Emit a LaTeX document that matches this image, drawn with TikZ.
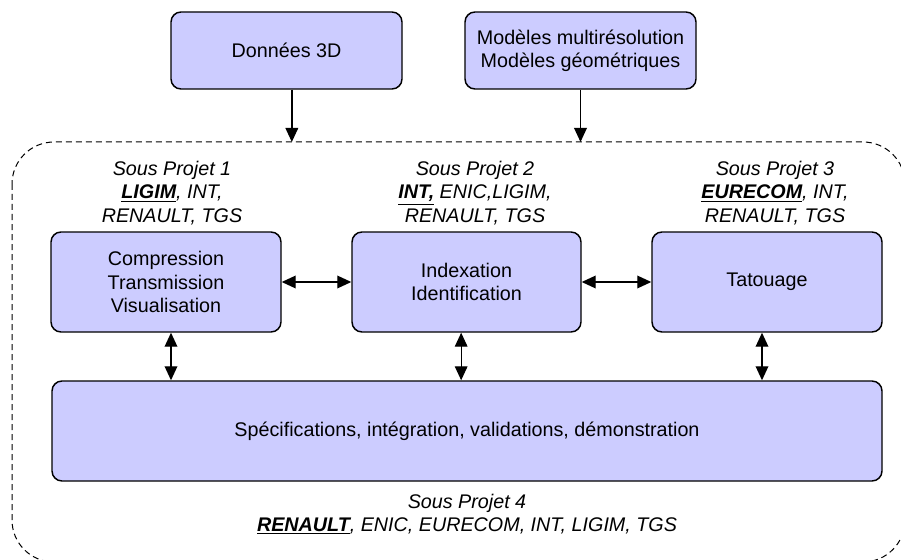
\documentclass[tikz,border=0pt]{standalone}
\usepackage{fontspec}
\setmainfont{Liberation Sans}
\usetikzlibrary{arrows.meta}
\definecolor{boxfill}{RGB}{204,204,255}
\newcommand{\basefont}{\fontsize{14.8pt}{17.5pt}\selectfont}
\newcommand{\lead}[1]{\underline{\textbf{#1}}}

\tikzset{every picture/.style={line width=0.75pt},
	blockbox/.style={draw, fill=boxfill, rounded corners=7.5pt, line width=1.1pt, align=center, inner sep=0pt},
	partlabel/.style={align=center, font=\basefont\itshape},
	onearrow/.style={-{Triangle[length=10.5pt,width=9.5pt]}, line width=1pt},
	biarrow/.style={{Triangle[length=10.5pt,width=9.5pt]}-{Triangle[length=10.5pt,width=9.5pt]}, line width=1pt}}

\begin{document}
\begin{tikzpicture}[x=0.75pt,y=0.75pt,yscale=-1,xscale=1,font=\basefont]
	\useasboundingbox (0,0) rectangle (901,560);
	\clip (0,0) rectangle (901,560);

	%Rounded Dashed Frame
	\draw [dashed, dash pattern=on 4.5pt off 3pt, rounded corners=31.5pt]  (12,142) rectangle (905,562) ;
	\coordinate (frametop) at (0,142);

	%Rounded Rect
	\node [blockbox, minimum width=173.25pt, minimum height=57.75pt] (data3d) at (286.5,50.5) {Données 3D};
	%Rounded Rect
	\node [blockbox, minimum width=173.25pt, minimum height=57.75pt] (models) at (580.5,50.5) {Modèles multirésolution\\Modèles géométriques};
	%Rounded Rect
	\node [blockbox, minimum width=172.5pt, minimum height=75pt] (compr) at (166,282) {Compression\\Transmission\\Visualisation};
	%Rounded Rect
	\node [blockbox, minimum width=171.75pt, minimum height=75pt] (index) at (466.5,282) {Indexation\\Identification};
	%Rounded Rect
	\node [blockbox, minimum width=172.5pt, minimum height=75pt] (tatou) at (767,282) {Tatouage};
	%Rounded Rect
	\node [blockbox, minimum width=622.5pt, minimum height=75pt] (integ) at (467,431) {Spécifications, intégration, validations, démonstration};

	% Text Node
	\node [partlabel] (sp1) at (172,193) {Sous Projet 1\\\lead{LIGIM}, INT,\\RENAULT, TGS};
	% Text Node
	\node [partlabel] (sp2) at (475,193) {Sous Projet 2\\\lead{INT,} ENIC,LIGIM,\\RENAULT, TGS};
	% Text Node
	\node [partlabel] (sp3) at (775,193) {Sous Projet 3\\\lead{EURECOM}, INT,\\RENAULT, TGS};
	% Text Node
	\node [partlabel] (sp4) at (467,514) {Sous Projet 4\\\lead{RENAULT}, ENIC, EURECOM, INT, LIGIM, TGS};

	%Straight Lines
	\draw [onearrow] ([xshift=4pt]data3d.south) -- ([xshift=4pt]data3d.south |- frametop) ;
	\draw [onearrow] (models.south) -- (models.south |- frametop) ;
	%Straight Lines
	\draw [biarrow] (compr.east) -- (index.west) ;
	\draw [biarrow] (index.east) -- (tatou.west) ;
	%Straight Lines
	\draw [biarrow] ([xshift=3.75pt]compr.south) -- ([xshift=3.75pt]compr.south |- integ.north) ;
	\draw [biarrow] ([xshift=-4pt]index.south) -- ([xshift=-4pt]index.south |- integ.north) ;
	\draw [biarrow] ([xshift=-3.75pt]tatou.south) -- ([xshift=-3.75pt]tatou.south |- integ.north) ;

\end{tikzpicture}
\end{document}
